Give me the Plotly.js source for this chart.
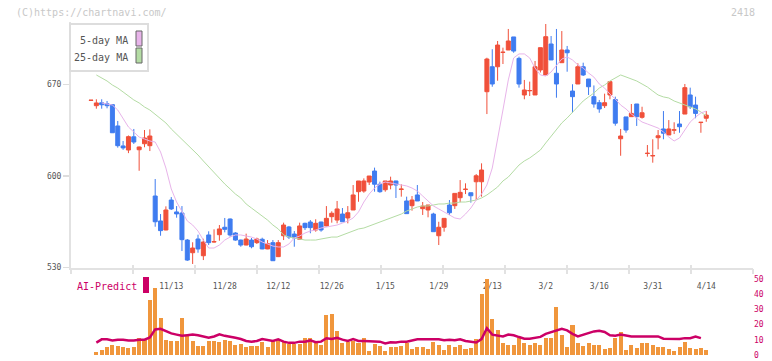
<!DOCTYPE html>
<html><head><meta charset="utf-8">
<script src="https://cdn.plot.ly/plotly-3.0.1.min.js"></script>
<style>html,body{margin:0;padding:0;background:#fff}#c{width:772px;height:361px}</style>
</head><body><div id="c"></div>
<script>
const openP = [657.8,653.8,656,655.3,654.6,638.3,623,619.9,630,620.1,624.7,623.2,584.7,565.6,558.7,581.6,572.5,571.7,551,541.3,551.8,539,554.9,549.5,555.1,560.8,567.1,556.4,551,547.2,551,549,551.6,544.2,549,538.3,554.3,561,555.6,551.6,563.8,564.8,558.7,564.8,561.8,568.9,566.3,570.9,567.9,574,588,588.5,595.4,603.8,593.7,589.5,593.1,596.2,589.7,580.9,577.3,585.5,575,574,570.9,554.3,560.8,577.8,577.3,583.4,589.7,587.2,595.6,595.6,664.5,683.6,683.6,694.5,696.4,706.4,690,662,665.2,662,681.1,677.3,701,678.6,686.7,696.4,665,670.4,683.6,674.2,660.7,656.1,653.8,662,658.5,628.5,645.2,645.4,655.1,644.9,617.2,615.4,629.3,636,631.4,635.1,639.8,647.4,662,654.3,640.9,644.2];
const highP = [658,658.7,658.7,657.4,655,642.1,626.8,631,636,622.5,635.2,635.7,597.7,570.9,576.8,583.9,577,577,551.8,549.3,555.1,552,557.7,559.2,562.5,567.9,567.5,557,551.3,555.9,552.6,552.8,552.8,551,551,551,564.3,561.8,557.9,564.3,564.3,566.3,566.9,565,577,573,580.9,575.5,577,593.1,596.2,598.2,600,606.4,595.7,596.2,599.5,596.4,593.7,584.2,584.7,593.1,580.1,577.8,571.9,565,567.6,581.6,586.7,596.9,594.4,587.2,601.5,609.7,690.5,697,703.3,698.2,712.5,706.4,691.3,673.5,672.2,688,698.2,716.3,707.1,712.5,710.9,699.5,670.2,686.2,686.7,674.2,669.3,658.2,663,672.2,660.7,636,645.2,655.1,655.1,653,623.7,628.1,635.2,649.7,642.8,641.1,649.7,670.4,667.6,660.7,641.3,649.7];
const lowP = [657.8,651.5,651.5,651.8,633,621.7,620,617.5,624.5,604,622,619.1,561.2,554.3,558.5,574,568.1,542.6,535,532.7,541.3,535.7,547.2,549,550.5,556.9,553.6,550.5,545.9,547,544.7,548,544,544,535,538,551,551.8,545.9,551.4,558.7,556.2,557.4,557.4,561.5,564.3,563.8,565,563.8,574,580.3,587.2,593.1,588,587.2,588,589.8,583.2,584.2,571.2,573.5,580.9,570.2,568.4,557.4,547.2,557.4,570.2,574.8,579.9,586.2,579.6,581.6,584.2,647.4,668.3,672.9,685.7,696.4,694.3,667.6,658.7,661.2,662,679.2,677.3,688.8,659.9,686.7,679.8,648.4,670.4,676.5,662,652.3,648.4,652,658.7,638.5,615.5,633.1,645.4,638.3,643.9,614.8,610.2,620.4,628.1,631.4,632.1,633.1,647.4,651.3,644.2,633.1,641.5];
const closeP = [658,655.9,654.5,653.8,633.1,623.2,621.5,630.1,626,622.2,629.1,630.6,565,558.2,574,574.8,571,551.3,535.7,544.9,544.2,549.5,549,549.8,559.5,559.2,554.9,551,547.2,551.8,545.9,551.8,544.2,548.2,535.2,549,562.5,553.3,552.6,561.8,560.5,560.5,563.8,558.7,567.6,571.5,574.8,565,571.9,585.5,596.2,596.2,600,593.7,588,596.2,596.2,593.1,590,571.2,581.6,580.9,577,577.8,557.4,560.8,567.6,571.9,586.7,587.5,589.9,584.9,600.2,604.6,689.5,670.4,700.2,694.7,703.3,695.6,670.4,665.8,665.4,683.6,698.2,706.6,688.8,670.4,696.4,694.3,660.7,683.6,677.3,668.3,655.1,651.3,656.1,672.2,640.4,630.6,635.2,647.9,645.4,648.4,617.4,615.6,630.8,632.7,636,635.3,637.7,667.6,653,647.9,641.1,646.6];
const ma5 = [null,null,655.9,655.1,654.3,650.5,643.6,637.5,633.7,629.8,628.3,626.8,626,618.4,606.1,590.1,580.1,573.2,565.6,562.5,557.9,551,544.9,544.9,547.2,551,553.3,554.9,554.9,554.1,553.3,551.8,549.5,548,546.4,545.7,545.7,548,552.6,554.1,556.4,557.9,558.7,560.2,561,561.8,562.5,564,565.6,567.9,572.5,580.1,586.2,590.8,593.9,595.4,594.7,593.9,593.1,592.4,590.8,588.5,584.7,580.9,577.1,574.8,572.5,570.2,567.9,567.1,570.9,575.5,581.6,586.2,593.1,606.1,627.5,650.5,673.5,690.3,693.4,693.4,690.3,682.6,677.3,676.5,679.6,684.2,689.5,691.1,688.8,685,682.6,678.8,675.7,670.4,667.3,662.7,658.9,654.3,651.3,647.4,644.4,641.3,639.8,638.3,636.7,633.7,629.8,626.8,629.1,635.2,641.3,645.1,648.2,649.7];
const ma25 = [null,677.3,675,672.7,669.6,667.3,664.3,661.2,658.2,655.9,652.8,650.5,647.4,644.4,640.6,636,632.1,628.3,624.5,619.9,616.1,611.5,606.9,602.3,597.7,593.9,590.1,586.2,583.2,578.6,575.5,572.5,569.4,566.3,562.5,559.5,554.9,553.3,552.6,551.8,551,551,551,551.8,552.6,553.3,553.3,554.9,556.4,557.9,559.5,560.2,561.8,563.3,564.8,566.3,567.9,569.4,570.9,573.2,574.8,576.3,577.1,577.1,577.8,578.6,578.6,579.3,579.3,580.1,580.1,580.9,581.6,583.2,585.5,588.5,591.6,596.2,599.2,603.8,608.4,611.5,613.8,616.8,619.9,625.3,630.6,636,640.6,644.4,649,653.6,657.4,660.5,663.5,667.3,669.6,672.7,675,677.3,675.8,674.2,672.7,670.4,668.1,665,662,660.5,659.7,657.4,655.9,654.3,652.8,651.3,649,645.9];
const volume = [0,1.9,3.4,5.2,6.7,5.7,5.0,4.4,5.2,10.9,9.9,36,44,24.6,10,9.5,9.5,24.6,13,9,5.7,5.7,9.5,9.5,8.8,10,9.5,6.3,7.5,5,5.7,5.7,8.8,5,9.5,10,9.5,7.5,7,7,11,11,9.5,6.3,26,27,16,8.2,8.8,9.5,8,11.5,2.5,7,5.7,2.5,5.0,5.0,5.7,8.2,3.8,5.0,5.0,3.8,8.8,6.9,3.2,6.3,5.0,6.3,3.8,4.4,10.7,39.7,49.8,23.3,16.4,8.2,6.3,6.3,11.3,8.2,6.9,8.2,6.3,11.3,11.3,31.5,13.2,5.0,19.5,8.2,5.7,7.6,6.3,6.3,3.8,4.4,11.3,15.1,3.2,6.3,4.4,7.6,7.6,6.9,5.0,5.0,3.8,2.5,5.0,8.8,4.4,3.8,4.4,3.2];
const aiPredict = [null,8.2,10.3,10.3,9.6,10.1,10.1,9.6,9.6,10.1,10.1,11.5,16.8,17.2,15.5,14.2,13.4,12.6,13,13.4,13,12.2,11.3,12.2,13.6,12.6,11.7,11.3,10.5,9.2,8.8,9.2,10.5,9.6,9.2,10.3,8.8,8,8,8.8,8.8,9.6,8.4,8.8,11,10.5,11.3,10.1,9.2,10.5,9.2,9.2,9.2,8.8,8.8,7.6,8.4,8.2,8.8,8.8,9.7,10.3,10.3,10.3,10.7,10.3,9.7,10.1,9.7,10.3,9.2,8.6,8.2,10.5,17.6,13.4,13,12.2,13.4,13,11.8,10.7,10.7,11.1,11.9,13.9,15.1,16,17.2,16.2,13.9,12.2,13.4,14.7,15.5,15.9,15.1,13,12.6,13.4,12.6,12.2,12.2,12.2,12.6,12.6,12.2,10.7,10.7,10.5,10.5,11.1,11.1,12.2,11.1];
const tickPos = [15,25,35,45,55,65,75,85,95,105,115];
const tickText = ['11/13','11/28','12/12','12/26','1/15','1/29','2/13','3/2','3/16','3/31','4/14'];
const priceTicks = [530,600,670];
const volTicks = [0,10,20,30,40,50];

const idx = openP.map((_, i) => i);
const W = 772, H = 361;
const px = v => v / W, py = v => 1 - v / H;
const mono = 'DejaVu Sans Mono, Liberation Mono, monospace';

const traces = [
  {type:'scatter', mode:'lines', x: idx, y: ma25, line:{color:'#b4dca4', width:1}, hoverinfo:'skip', xaxis:'x', yaxis:'y'},
  {type:'scatter', mode:'lines', x: idx, y: ma5, line:{color:'#e8b4ea', width:1}, hoverinfo:'skip', xaxis:'x', yaxis:'y'},
  {type:'candlestick', x: idx, open: openP, high: highP, low: lowP, close: closeP,
   increasing:{line:{color:'#f0503a', width:1}, fillcolor:'#f0503a'},
   decreasing:{line:{color:'#3f7cf0', width:1}, fillcolor:'#3f7cf0'},
   whiskerwidth:0, hoverinfo:'skip', xaxis:'x', yaxis:'y'},
  {type:'bar', x: idx, y: volume, marker:{color:'#f0963c'}, width:0.75, hoverinfo:'skip', xaxis:'x', yaxis:'y2'},
  {type:'scatter', mode:'lines', x: idx, y: aiPredict, line:{color:'#cc0066', width:2.5}, hoverinfo:'skip', xaxis:'x', yaxis:'y2'},
  {type:'scatter', mode:'lines', x:[0,11], y:[600,600], line:{width:0}, hoverinfo:'skip', xaxis:'x2', yaxis:'y', showlegend:false},
  {type:'scatter', mode:'lines', x:[0,11], y:[600,600], line:{width:0}, hoverinfo:'skip', xaxis:'x3', yaxis:'y', showlegend:false}
];

const xDomain = [px(71), px(753)];
const layout = {
  width: W, height: H, margin:{l:0,r:0,t:0,b:0}, paper_bgcolor:'#fff', plot_bgcolor:'rgba(0,0,0,0)',
  showlegend:false, hovermode:false, bargap:0, boxgap:0.12, boxgroupgap:0.15,
  font:{family: mono, size: 8, color:'#555'},
  xaxis:{domain:xDomain, range:[-3.738,123.738], anchor:'y', tickvals:tickPos, ticktext:tickText,
    ticks:'outside', ticklen:9, tickcolor:'rgba(0,0,0,0)', showgrid:false, zeroline:false,
    showline:true, linecolor:'#e2e2e2', linewidth:2, rangeslider:{visible:false},
    tickfont:{family:mono, size:8, color:'#555'}, fixedrange:true},
  xaxis2:{domain:xDomain, range:[0,11], overlaying:'x', anchor:'y', tickvals:[0,1,2,3,4,5,6,7,8,9,10,11],
    ticks:'outside', ticklen:5, tickwidth:2, tickcolor:'#e2e2e2', showticklabels:false, showgrid:false, zeroline:false, showline:false},
  xaxis3:{domain:xDomain, range:[0,11], overlaying:'x', anchor:'y', tickvals:[0,1,2,3,4,5,6,7,8,9,10,11],
    ticks:'inside', ticklen:3, tickwidth:2, tickcolor:'#e2e2e2', showticklabels:false, showgrid:false, zeroline:false, showline:false},
  yaxis:{domain:[py(268), py(22)], range:[529.62,717.83], anchor:'x', tickvals:priceTicks,
    ticks:'outside', ticklen:6, tickwidth:1.5, tickcolor:'#dddddd', showgrid:false, zeroline:false,
    showline:true, linecolor:'#e2e2e2', linewidth:2, tickfont:{family:mono, size:8, color:'#555'}},
  yaxis2:{domain:[py(356), py(278.7)], range:[-0.6,50], anchor:'x', side:'right', tickvals:volTicks,
    ticks:'', showgrid:false, zeroline:false, showline:false, ticklabeloverflow:'allow',
    tickfont:{family:mono, size:8, color:'#cc0066'}},
  shapes:[
    {type:'rect', xref:'paper', yref:'paper', x0:px(70), x1:px(148), y0:py(71), y1:py(24), fillcolor:'#fff', line:{color:'#dddddd', width:2}, layer:'above'},
    {type:'rect', xref:'paper', yref:'paper', x0:px(136), x1:px(142), y0:py(46), y1:py(31), fillcolor:'#e8b4ea', line:{color:'#666', width:1}, layer:'above'},
    {type:'rect', xref:'paper', yref:'paper', x0:px(136), x1:px(142), y0:py(63), y1:py(48), fillcolor:'#b4dca4', line:{color:'#666', width:1}, layer:'above'},
    {type:'rect', xref:'paper', yref:'paper', x0:px(143), x1:px(149), y0:py(293), y1:py(277), fillcolor:'#cc0066', line:{width:0}, layer:'above'}
  ],
  annotations:[
    {xref:'paper', yref:'paper', x:px(14), y:py(12), xanchor:'left', yanchor:'middle', text:'(C)https://chartnavi.com/', showarrow:false, font:{family:mono, size:10, color:'#c8c8c8'}},
    {xref:'paper', yref:'paper', x:px(757), y:py(12), xanchor:'right', yanchor:'middle', text:'2418', showarrow:false, font:{family:mono, size:10, color:'#c8c8c8'}},
    {xref:'paper', yref:'paper', x:px(130), y:py(40), xanchor:'right', yanchor:'middle', text:'5-day MA', showarrow:false, font:{family:mono, size:10, color:'#555'}},
    {xref:'paper', yref:'paper', x:px(130), y:py(57), xanchor:'right', yanchor:'middle', text:'25-day MA', showarrow:false, font:{family:mono, size:10, color:'#555'}},
    {xref:'paper', yref:'paper', x:px(75), y:py(286), xanchor:'left', yanchor:'middle', text:'AI-Predict', showarrow:false, font:{family:mono, size:10, color:'#cc0066'}}
  ]
};
Plotly.newPlot('c', traces, layout, {staticPlot:true, displayModeBar:false});
</script></body></html>
